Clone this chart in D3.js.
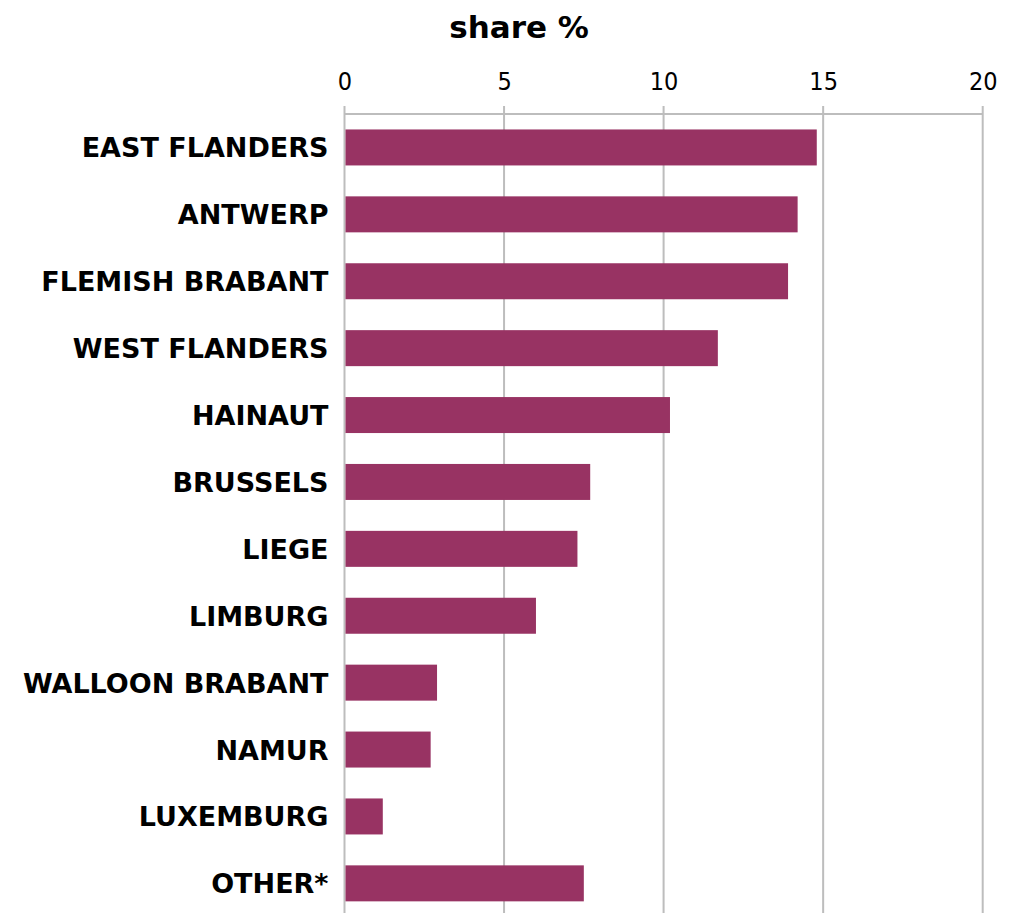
<!DOCTYPE html>
<html>
<head>
<meta charset="utf-8">
<script src="https://cdn.jsdelivr.net/npm/d3@7"></script>
<style>
  html, body { margin: 0; padding: 0; background: #ffffff; }
  svg { display: block; }
</style>
</head>
<body>
<svg id="chart" width="1010" height="913"></svg>
<script>
// Province shares (%)
const provinces = [
  "EAST FLANDERS", "ANTWERP", "FLEMISH BRABANT", "WEST FLANDERS", "HAINAUT",
  "BRUSSELS", "LIEGE", "LIMBURG", "WALLOON BRABANT", "NAMUR", "LUXEMBURG", "OTHER*"
];
const shares = [14.8, 14.2, 13.9, 11.7, 10.2, 7.7, 7.3, 6.0, 2.9, 2.7, 1.2, 7.5];
const tickValues = [0, 5, 10, 15, 20];
const axisTitle = "share %";

const svg = d3.select("#chart");
const margin = { top: 114, left: 344.5, right: 27.3 };
const plotW = 1010 - margin.left - margin.right;
const step = 66.9;
const plotH = step * provinces.length;

const x = d3.scaleLinear().domain([0, 20]).range([0, plotW]);
const y = d3.scaleBand().domain(provinces).range([0, plotH]).paddingInner(0.462).paddingOuter(0.231);

const g = svg.append("g").attr("transform", `translate(${margin.left},${margin.top})`);

// vertical gridlines
g.append("g").selectAll("line").data(tickValues).join("line")
  .attr("x1", d => x(d)).attr("x2", d => x(d))
  .attr("y1", -8).attr("y2", plotH)
  .attr("stroke", "#bdbdbd").attr("stroke-width", 2);

// top axis baseline
g.append("line").attr("x1", 0).attr("x2", plotW).attr("y1", 0).attr("y2", 0)
  .attr("stroke", "#bdbdbd").attr("stroke-width", 2);

// bars
g.append("g").selectAll("rect").data(shares).join("rect")
  .attr("x", x(0) + 1)
  .attr("y", (d, i) => y(provinces[i]))
  .attr("width", d => x(d) - x(0) - 1)
  .attr("height", y.bandwidth())
  .attr("fill", "#983363");

// tick labels
const axis = d3.axisTop(x).tickValues(tickValues).tickSize(0).tickPadding(0);
const ax = g.append("g").attr("transform", "translate(0,-24)").call(axis);
ax.select(".domain").remove();
ax.selectAll("text")
  .attr("font-family", "DejaVu Sans Condensed, DejaVu Sans, sans-serif")
  .attr("font-size", 25).attr("fill", "#000");

// category labels
g.append("g").selectAll("text").data(provinces).join("text")
  .attr("x", -16)
  .attr("y", d => y(d) + y.bandwidth() / 2)
  .attr("dy", "0.37em")
  .attr("text-anchor", "end")
  .attr("font-family", "DejaVu Sans, sans-serif")
  .attr("font-weight", "bold")
  .attr("font-size", 27)
  .attr("fill", "#000")
  .text(d => d);

// title
svg.append("text")
  .attr("x", 519).attr("y", 38)
  .attr("text-anchor", "middle")
  .attr("font-family", "DejaVu Sans, sans-serif")
  .attr("font-weight", "bold")
  .attr("font-size", 31)
  .attr("fill", "#000")
  .text(axisTitle);
</script>
</body>
</html>
